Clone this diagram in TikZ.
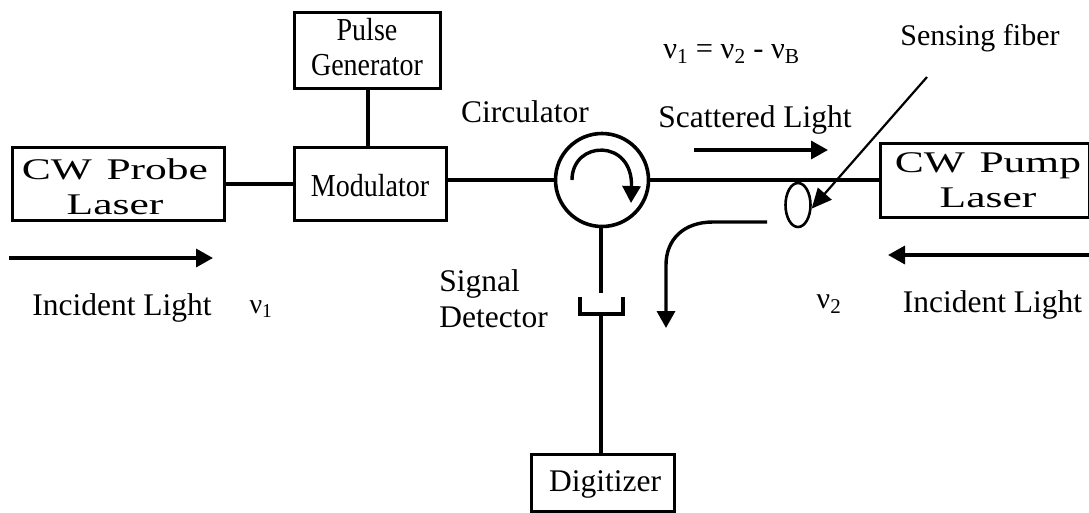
\documentclass[tikz,border=0pt]{standalone}
\usepackage{fontspec}
\setmainfont{Liberation Serif}
\usetikzlibrary{arrows.meta,shapes.geometric}
\tikzset{
  box/.style={draw,line width=3.2pt,inner sep=0pt,anchor=north west},
  wire/.style={line width=3.2pt},
  heavy wire/.style={line width=3.8pt},
  flow/.style={line width=3.4pt,-{Triangle[length=17pt,width=18pt]}},
  lbl/.style={inner sep=0pt,align=center,anchor=base},
  big/.style={font=\fontsize{31.5pt}{36pt}\selectfont},
  boxfont/.style={font=\fontsize{32pt}{35pt}\selectfont,xscale=0.875},
  wide/.style={inner sep=0pt,align=center,font=\fontsize{30pt}{35pt}\selectfont,xscale=1.45,text width=135pt}
}
\begin{document}
\begin{tikzpicture}[x=1pt,y=-1pt]
\useasboundingbox (0,0) rectangle (1089,512);
\node[box,minimum width=146pt,minimum height=76pt] (pulse) at (293,11) {};
\node[box,minimum width=152pt,minimum height=73pt] (mod) at (293,146) {};
\node[box,minimum width=212pt,minimum height=73pt] (probe) at (11,146) {};
\node[box,minimum width=209pt,minimum height=74pt] (pump) at (879,142) {};
\node[box,minimum width=143pt,minimum height=57pt] (dig) at (530,453) {};
\node[draw,circle,line width=3.6pt,minimum size=93pt,inner sep=0pt] (circ) at (602,180) {};
\node[draw,ellipse,line width=2.6pt,minimum width=25pt,minimum height=44pt,inner sep=0pt] (fib) at (798,205) {};
\coordinate (detIn) at (601,293);
\coordinate (detL) at (580,297);
\coordinate (detLb) at (580,314);
\coordinate (detR) at (623,297);
\coordinate (detRb) at (623,314);
\coordinate (detOut) at (601,314);
\draw[heavy wire] (pulse.south -| 368,0) -- (mod.north -| 368,0);
\draw[heavy wire] (probe.east) -- (probe.east -| mod.west);
\draw[wire] (mod.east |- circ.west) -- (circ.west);
\draw[heavy wire] (circ.east) -- (circ.east -| pump.west);
\draw[wire] (circ.south -| detIn) -- (detIn);
\draw[wire] (detL) -- (detLb) -- (detRb) -- (detR);
\draw[heavy wire] (detOut) -- (detOut |- dig.north);
\coordinate (a1) at (572,180); \coordinate (a2) at (631,203);
\draw[flow] (a1) .. controls (572,140) and (633,138) .. (a2);
\coordinate (c1) at (694,150); \coordinate (c2) at (828,150);
\draw[flow] (c1) -- (c2);
\coordinate (d1) at (9,258); \coordinate (d2) at (213,258);
\draw[flow] (d1) -- (d2);
\coordinate (e1) at (1089,255); \coordinate (e2) at (888,255);
\draw[flow] (e1) -- (e2);
\coordinate (f1) at (767,222); \coordinate (f2) at (666,328);
\draw[flow] (f1) -- (713,222) .. controls (683,222) and (666,240) .. (666,265) -- (f2);
\coordinate (g1) at (927,77);
\draw[line width=2.2pt,-{Triangle[length=20pt,width=18pt]}] (g1) -- (fib.-15);
\node[inner sep=0pt,align=center,boxfont] (tp) at (367,47) {Pulse\\Generator};
\node[lbl,boxfont] (tm) at (370,196) {Modulator};
\node[wide] (tl) at (115,187) {CW Probe\\Laser};
\node[wide] (tq) at (988,180) {CW Pump\\Laser};
\node[lbl,big] (td) at (605,491) {Digitizer};
\node[lbl,big] (tc) at (525,122) {Circulator};
\node[lbl,big] (ts) at (755,127) {Scattered Light};
\node[lbl,font=\fontsize{30pt}{36pt}\selectfont] (tf) at (980,45) {Sensing fiber};
\node[lbl,big] (ti) at (122,315) {Incident Light};
\node[lbl,big] (tj) at (992.5,312) {Incident Light};
\node[inner sep=0pt,align=left,big] (tg) at (493.5,299) {Signal\\Detector};
\node[lbl,font=\fontsize{28pt}{30pt}\selectfont] (n1) at (261,313) {ν\textsubscript{1}};
\node[lbl,font=\fontsize{30pt}{30pt}\selectfont] (n2) at (829,308) {ν\textsubscript{2}};
\node[lbl,font=\fontsize{30.5pt}{30pt}\selectfont] (eq) at (731.5,58) {ν\textsubscript{1} = ν\textsubscript{2} - ν\textsubscript{B}};
\end{tikzpicture}
\end{document}
